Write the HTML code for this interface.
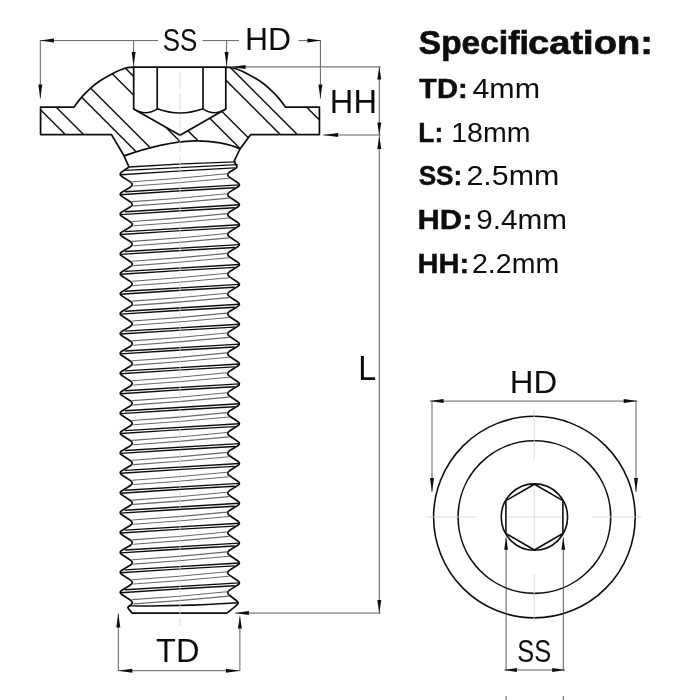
<!DOCTYPE html>
<html><head><meta charset="utf-8"><title>Screw specification</title>
<style>
html,body{margin:0;padding:0;background:#fff;}
body{width:700px;height:700px;overflow:hidden;}
svg{display:block;}
text{font-family:"Liberation Sans",sans-serif;}
</style></head><body>
<svg width="700" height="700" viewBox="0 0 700 700">
<rect x="0" y="0" width="700" height="700" fill="#ffffff"/>
<filter id="nf" x="0" y="0" width="700" height="700" filterUnits="userSpaceOnUse"><feGaussianBlur stdDeviation="0.35"/></filter>
<g filter="url(#nf)">
<defs><clipPath id="sec"><path d="M40.6,107 L74.1,107 C75.43,105.28 79.33,99.85 82.10,96.70 C84.87,93.55 87.83,90.67 90.70,88.10 C93.57,85.53 95.77,83.67 99.30,81.30 C102.83,78.93 108.10,75.90 111.90,73.90 C115.70,71.90 119.25,70.40 122.10,69.30 C124.95,68.20 127.07,67.68 129.00,67.30 C130.93,66.92 132.92,67.05 133.70,67.00 L133.7,108.9 L180,135.2 L225.8,108.9 L225.8,67 C226.58,67.05 228.57,66.92 230.50,67.30 C232.43,67.68 234.55,68.20 237.40,69.30 C240.25,70.40 243.80,71.90 247.60,73.90 C251.40,75.90 256.67,78.93 260.20,81.30 C263.73,83.67 265.93,85.53 268.80,88.10 C271.67,90.67 274.63,93.55 277.40,96.70 C280.17,99.85 284.07,105.28 285.40,107.00 L319.4,107 L319.4,134.6 L250.7,134.6 L240,149 C230,144 212,140.5 194,140.8 C175,141.5 150,146.7 124,155.8 L111.5,134.6 L40.6,134.6 Z"/></clipPath></defs>
<g clip-path="url(#sec)" stroke="#111" stroke-width="1.45">
<line x1="20" y1="89.20" x2="340" y2="409.20"/>
<line x1="20" y1="71.00" x2="340" y2="391.00"/>
<line x1="20" y1="35.60" x2="340" y2="355.60"/>
<line x1="20" y1="17.50" x2="340" y2="337.50"/>
<line x1="20" y1="-18.50" x2="340" y2="301.50"/>
<line x1="20" y1="-37.20" x2="340" y2="282.80"/>
<line x1="20" y1="-71.50" x2="340" y2="248.50"/>
<line x1="20" y1="-90.50" x2="340" y2="229.50"/>
<line x1="20" y1="-125.70" x2="340" y2="194.30"/>
<line x1="20" y1="-142.80" x2="340" y2="177.20"/>
<line x1="20" y1="-179.50" x2="340" y2="140.50"/>
</g>
<path d="M40.6,107 L74.1,107 C75.43,105.28 79.33,99.85 82.10,96.70 C84.87,93.55 87.83,90.67 90.70,88.10 C93.57,85.53 95.77,83.67 99.30,81.30 C102.83,78.93 108.10,75.90 111.90,73.90 C115.70,71.90 119.25,70.40 122.10,69.30 C124.95,68.20 127.07,67.68 129.00,67.30 C130.93,66.92 132.92,67.05 133.70,67.00 L133.7,108.9 L180,135.2 L225.8,108.9 L225.8,67 C226.58,67.05 228.57,66.92 230.50,67.30 C232.43,67.68 234.55,68.20 237.40,69.30 C240.25,70.40 243.80,71.90 247.60,73.90 C251.40,75.90 256.67,78.93 260.20,81.30 C263.73,83.67 265.93,85.53 268.80,88.10 C271.67,90.67 274.63,93.55 277.40,96.70 C280.17,99.85 284.07,105.28 285.40,107.00 L319.4,107 L319.4,134.6 L250.7,134.6 L240,149 C230,144 212,140.5 194,140.8 C175,141.5 150,146.7 124,155.8 L111.5,134.6 L40.6,134.6 Z" fill="none" stroke="#111" stroke-width="1.75" stroke-linejoin="round"/>
<line x1="133.70" y1="67.00" x2="225.80" y2="67.00" stroke="#111" stroke-width="1.75" />
<line x1="157.20" y1="67.00" x2="157.20" y2="108.80" stroke="#111" stroke-width="1.7" />
<line x1="203.00" y1="67.00" x2="203.00" y2="108.80" stroke="#111" stroke-width="1.7" />
<path d="M133.7,108.8 Q145.8,116.6 157.2,108.8 Q180,117.2 203,108.8 Q214.2,116.6 225.8,108.8" fill="none" stroke="#111" stroke-width="1.6"/>
<line x1="124.00" y1="155.80" x2="129.00" y2="167.00" stroke="#111" stroke-width="1.7" />
<line x1="240.00" y1="149.00" x2="234.00" y2="161.40" stroke="#111" stroke-width="1.7" />
<path d="M129.00,167.00 L121.78,172.02 Q118.50,174.30 121.86,176.47 L130.20,181.88 Q134.40,184.60 130.12,187.18 L121.92,192.13 Q118.50,194.20 121.86,196.37 L130.20,201.78 Q134.40,204.50 130.12,207.08 L121.92,212.03 Q118.50,214.10 121.86,216.27 L130.20,221.68 Q134.40,224.40 130.12,226.98 L121.92,231.93 Q118.50,234.00 121.86,236.17 L130.20,241.58 Q134.40,244.30 130.12,246.88 L121.92,251.83 Q118.50,253.90 121.86,256.07 L130.20,261.48 Q134.40,264.20 130.12,266.78 L121.92,271.73 Q118.50,273.80 121.86,275.97 L130.20,281.38 Q134.40,284.10 130.12,286.68 L121.92,291.63 Q118.50,293.70 121.86,295.87 L130.20,301.28 Q134.40,304.00 130.12,306.58 L121.92,311.53 Q118.50,313.60 121.86,315.77 L130.20,321.18 Q134.40,323.90 130.12,326.48 L121.92,331.43 Q118.50,333.50 121.86,335.67 L130.20,341.08 Q134.40,343.80 130.12,346.38 L121.92,351.33 Q118.50,353.40 121.86,355.57 L130.20,360.98 Q134.40,363.70 130.12,366.28 L121.92,371.23 Q118.50,373.30 121.86,375.47 L130.20,380.88 Q134.40,383.60 130.12,386.18 L121.92,391.13 Q118.50,393.20 121.86,395.37 L130.20,400.78 Q134.40,403.50 130.12,406.08 L121.92,411.03 Q118.50,413.10 121.86,415.27 L130.20,420.68 Q134.40,423.40 130.12,425.98 L121.92,430.93 Q118.50,433.00 121.86,435.17 L130.20,440.58 Q134.40,443.30 130.12,445.88 L121.92,450.83 Q118.50,452.90 121.86,455.07 L130.20,460.48 Q134.40,463.20 130.12,465.78 L121.92,470.73 Q118.50,472.80 121.86,474.97 L130.20,480.38 Q134.40,483.10 130.12,485.68 L121.92,490.63 Q118.50,492.70 121.86,494.87 L130.20,500.28 Q134.40,503.00 130.12,505.58 L121.92,510.53 Q118.50,512.60 121.86,514.77 L130.20,520.18 Q134.40,522.90 130.12,525.48 L121.92,530.43 Q118.50,532.50 121.86,534.67 L130.20,540.08 Q134.40,542.80 130.12,545.38 L121.92,550.33 Q118.50,552.40 121.86,554.57 L130.20,559.98 Q134.40,562.70 130.12,565.28 L121.92,570.23 Q118.50,572.30 121.86,574.47 L130.20,579.88 Q134.40,582.60 130.12,585.18 L121.92,590.13 Q118.50,592.20 121.83,594.41 L129.84,599.73 Q134.00,602.50 131.03,604.71 L128.60,606.51 Q127.40,607.40 128.34,608.57 L132.00,613.10 " fill="none" stroke="#111" stroke-width="1.75" stroke-linejoin="round"/>
<path d="M234.00,161.40 L236.63,165.81 Q237.40,167.10 236.13,167.90 L229.82,171.92 Q225.60,174.60 229.76,177.37 L237.77,182.69 Q241.10,184.90 237.70,187.01 L229.85,191.87 Q225.60,194.50 229.76,197.27 L237.77,202.59 Q241.10,204.80 237.70,206.91 L229.85,211.77 Q225.60,214.40 229.76,217.17 L237.77,222.49 Q241.10,224.70 237.70,226.81 L229.85,231.67 Q225.60,234.30 229.76,237.07 L237.77,242.39 Q241.10,244.60 237.70,246.71 L229.85,251.57 Q225.60,254.20 229.76,256.97 L237.77,262.29 Q241.10,264.50 237.70,266.61 L229.85,271.47 Q225.60,274.10 229.76,276.87 L237.77,282.19 Q241.10,284.40 237.70,286.51 L229.85,291.37 Q225.60,294.00 229.76,296.77 L237.77,302.09 Q241.10,304.30 237.70,306.41 L229.85,311.27 Q225.60,313.90 229.76,316.67 L237.77,321.99 Q241.10,324.20 237.70,326.31 L229.85,331.17 Q225.60,333.80 229.76,336.57 L237.77,341.89 Q241.10,344.10 237.70,346.21 L229.85,351.07 Q225.60,353.70 229.76,356.47 L237.77,361.79 Q241.10,364.00 237.70,366.11 L229.85,370.97 Q225.60,373.60 229.76,376.37 L237.77,381.69 Q241.10,383.90 237.70,386.01 L229.85,390.87 Q225.60,393.50 229.76,396.27 L237.77,401.59 Q241.10,403.80 237.70,405.91 L229.85,410.77 Q225.60,413.40 229.76,416.17 L237.77,421.49 Q241.10,423.70 237.70,425.81 L229.85,430.67 Q225.60,433.30 229.76,436.07 L237.77,441.39 Q241.10,443.60 237.70,445.71 L229.85,450.57 Q225.60,453.20 229.76,455.97 L237.77,461.29 Q241.10,463.50 237.70,465.61 L229.85,470.47 Q225.60,473.10 229.76,475.87 L237.77,481.19 Q241.10,483.40 237.70,485.51 L229.85,490.37 Q225.60,493.00 229.76,495.77 L237.77,501.09 Q241.10,503.30 237.70,505.41 L229.85,510.27 Q225.60,512.90 229.76,515.67 L237.77,520.99 Q241.10,523.20 237.70,525.31 L229.85,530.17 Q225.60,532.80 229.76,535.57 L237.77,540.89 Q241.10,543.10 237.70,545.21 L229.85,550.07 Q225.60,552.70 229.76,555.47 L237.77,560.79 Q241.10,563.00 237.70,565.11 L229.85,569.97 Q225.60,572.60 229.76,575.37 L237.77,580.69 Q241.10,582.90 237.70,585.01 L229.85,589.87 Q225.60,592.50 229.63,595.46 L236.38,600.43 Q239.60,602.80 236.50,605.33 L227.00,613.10 " fill="none" stroke="#111" stroke-width="1.75" stroke-linejoin="round"/>
<line x1="132.00" y1="613.10" x2="227.00" y2="613.10" stroke="#111" stroke-width="1.7" />
<path d="M120.70,174.80 Q177.50,170.95 234.30,167.90" fill="none" stroke="#111" stroke-width="1.45" stroke-linecap="round"/>
<path d="M120.70,194.70 Q177.50,190.85 234.30,187.80" fill="none" stroke="#111" stroke-width="1.45" stroke-linecap="round"/>
<path d="M125.40,191.80 Q182.35,188.57 239.30,184.90" fill="none" stroke="#111" stroke-width="1.45" stroke-linecap="round"/>
<path d="M133.60,186.00 Q181.20,182.90 228.80,178.20" fill="none" stroke="#6a6a6a" stroke-width="1.1" stroke-linecap="round"/>
<path d="M132.10,181.70 Q179.50,178.73 226.90,173.80" fill="none" stroke="#6a6a6a" stroke-width="1.1" stroke-linecap="round"/>
<path d="M120.70,214.60 Q177.50,210.75 234.30,207.70" fill="none" stroke="#111" stroke-width="1.45" stroke-linecap="round"/>
<path d="M125.40,211.70 Q182.35,208.47 239.30,204.80" fill="none" stroke="#111" stroke-width="1.45" stroke-linecap="round"/>
<path d="M133.60,205.90 Q181.20,202.80 228.80,198.10" fill="none" stroke="#6a6a6a" stroke-width="1.1" stroke-linecap="round"/>
<path d="M132.10,201.60 Q179.50,198.63 226.90,193.70" fill="none" stroke="#6a6a6a" stroke-width="1.1" stroke-linecap="round"/>
<path d="M120.70,234.50 Q177.50,230.65 234.30,227.60" fill="none" stroke="#111" stroke-width="1.45" stroke-linecap="round"/>
<path d="M125.40,231.60 Q182.35,228.37 239.30,224.70" fill="none" stroke="#111" stroke-width="1.45" stroke-linecap="round"/>
<path d="M133.60,225.80 Q181.20,222.70 228.80,218.00" fill="none" stroke="#6a6a6a" stroke-width="1.1" stroke-linecap="round"/>
<path d="M132.10,221.50 Q179.50,218.53 226.90,213.60" fill="none" stroke="#6a6a6a" stroke-width="1.1" stroke-linecap="round"/>
<path d="M120.70,254.40 Q177.50,250.55 234.30,247.50" fill="none" stroke="#111" stroke-width="1.45" stroke-linecap="round"/>
<path d="M125.40,251.50 Q182.35,248.27 239.30,244.60" fill="none" stroke="#111" stroke-width="1.45" stroke-linecap="round"/>
<path d="M133.60,245.70 Q181.20,242.60 228.80,237.90" fill="none" stroke="#6a6a6a" stroke-width="1.1" stroke-linecap="round"/>
<path d="M132.10,241.40 Q179.50,238.43 226.90,233.50" fill="none" stroke="#6a6a6a" stroke-width="1.1" stroke-linecap="round"/>
<path d="M120.70,274.30 Q177.50,270.45 234.30,267.40" fill="none" stroke="#111" stroke-width="1.45" stroke-linecap="round"/>
<path d="M125.40,271.40 Q182.35,268.17 239.30,264.50" fill="none" stroke="#111" stroke-width="1.45" stroke-linecap="round"/>
<path d="M133.60,265.60 Q181.20,262.50 228.80,257.80" fill="none" stroke="#6a6a6a" stroke-width="1.1" stroke-linecap="round"/>
<path d="M132.10,261.30 Q179.50,258.33 226.90,253.40" fill="none" stroke="#6a6a6a" stroke-width="1.1" stroke-linecap="round"/>
<path d="M120.70,294.20 Q177.50,290.35 234.30,287.30" fill="none" stroke="#111" stroke-width="1.45" stroke-linecap="round"/>
<path d="M125.40,291.30 Q182.35,288.07 239.30,284.40" fill="none" stroke="#111" stroke-width="1.45" stroke-linecap="round"/>
<path d="M133.60,285.50 Q181.20,282.40 228.80,277.70" fill="none" stroke="#6a6a6a" stroke-width="1.1" stroke-linecap="round"/>
<path d="M132.10,281.20 Q179.50,278.23 226.90,273.30" fill="none" stroke="#6a6a6a" stroke-width="1.1" stroke-linecap="round"/>
<path d="M120.70,314.10 Q177.50,310.25 234.30,307.20" fill="none" stroke="#111" stroke-width="1.45" stroke-linecap="round"/>
<path d="M125.40,311.20 Q182.35,307.97 239.30,304.30" fill="none" stroke="#111" stroke-width="1.45" stroke-linecap="round"/>
<path d="M133.60,305.40 Q181.20,302.30 228.80,297.60" fill="none" stroke="#6a6a6a" stroke-width="1.1" stroke-linecap="round"/>
<path d="M132.10,301.10 Q179.50,298.13 226.90,293.20" fill="none" stroke="#6a6a6a" stroke-width="1.1" stroke-linecap="round"/>
<path d="M120.70,334.00 Q177.50,330.15 234.30,327.10" fill="none" stroke="#111" stroke-width="1.45" stroke-linecap="round"/>
<path d="M125.40,331.10 Q182.35,327.87 239.30,324.20" fill="none" stroke="#111" stroke-width="1.45" stroke-linecap="round"/>
<path d="M133.60,325.30 Q181.20,322.20 228.80,317.50" fill="none" stroke="#6a6a6a" stroke-width="1.1" stroke-linecap="round"/>
<path d="M132.10,321.00 Q179.50,318.03 226.90,313.10" fill="none" stroke="#6a6a6a" stroke-width="1.1" stroke-linecap="round"/>
<path d="M120.70,353.90 Q177.50,350.05 234.30,347.00" fill="none" stroke="#111" stroke-width="1.45" stroke-linecap="round"/>
<path d="M125.40,351.00 Q182.35,347.77 239.30,344.10" fill="none" stroke="#111" stroke-width="1.45" stroke-linecap="round"/>
<path d="M133.60,345.20 Q181.20,342.10 228.80,337.40" fill="none" stroke="#6a6a6a" stroke-width="1.1" stroke-linecap="round"/>
<path d="M132.10,340.90 Q179.50,337.93 226.90,333.00" fill="none" stroke="#6a6a6a" stroke-width="1.1" stroke-linecap="round"/>
<path d="M120.70,373.80 Q177.50,369.95 234.30,366.90" fill="none" stroke="#111" stroke-width="1.45" stroke-linecap="round"/>
<path d="M125.40,370.90 Q182.35,367.67 239.30,364.00" fill="none" stroke="#111" stroke-width="1.45" stroke-linecap="round"/>
<path d="M133.60,365.10 Q181.20,362.00 228.80,357.30" fill="none" stroke="#6a6a6a" stroke-width="1.1" stroke-linecap="round"/>
<path d="M132.10,360.80 Q179.50,357.83 226.90,352.90" fill="none" stroke="#6a6a6a" stroke-width="1.1" stroke-linecap="round"/>
<path d="M120.70,393.70 Q177.50,389.85 234.30,386.80" fill="none" stroke="#111" stroke-width="1.45" stroke-linecap="round"/>
<path d="M125.40,390.80 Q182.35,387.57 239.30,383.90" fill="none" stroke="#111" stroke-width="1.45" stroke-linecap="round"/>
<path d="M133.60,385.00 Q181.20,381.90 228.80,377.20" fill="none" stroke="#6a6a6a" stroke-width="1.1" stroke-linecap="round"/>
<path d="M132.10,380.70 Q179.50,377.73 226.90,372.80" fill="none" stroke="#6a6a6a" stroke-width="1.1" stroke-linecap="round"/>
<path d="M120.70,413.60 Q177.50,409.75 234.30,406.70" fill="none" stroke="#111" stroke-width="1.45" stroke-linecap="round"/>
<path d="M125.40,410.70 Q182.35,407.47 239.30,403.80" fill="none" stroke="#111" stroke-width="1.45" stroke-linecap="round"/>
<path d="M133.60,404.90 Q181.20,401.80 228.80,397.10" fill="none" stroke="#6a6a6a" stroke-width="1.1" stroke-linecap="round"/>
<path d="M132.10,400.60 Q179.50,397.63 226.90,392.70" fill="none" stroke="#6a6a6a" stroke-width="1.1" stroke-linecap="round"/>
<path d="M120.70,433.50 Q177.50,429.65 234.30,426.60" fill="none" stroke="#111" stroke-width="1.45" stroke-linecap="round"/>
<path d="M125.40,430.60 Q182.35,427.37 239.30,423.70" fill="none" stroke="#111" stroke-width="1.45" stroke-linecap="round"/>
<path d="M133.60,424.80 Q181.20,421.70 228.80,417.00" fill="none" stroke="#6a6a6a" stroke-width="1.1" stroke-linecap="round"/>
<path d="M132.10,420.50 Q179.50,417.53 226.90,412.60" fill="none" stroke="#6a6a6a" stroke-width="1.1" stroke-linecap="round"/>
<path d="M120.70,453.40 Q177.50,449.55 234.30,446.50" fill="none" stroke="#111" stroke-width="1.45" stroke-linecap="round"/>
<path d="M125.40,450.50 Q182.35,447.27 239.30,443.60" fill="none" stroke="#111" stroke-width="1.45" stroke-linecap="round"/>
<path d="M133.60,444.70 Q181.20,441.60 228.80,436.90" fill="none" stroke="#6a6a6a" stroke-width="1.1" stroke-linecap="round"/>
<path d="M132.10,440.40 Q179.50,437.43 226.90,432.50" fill="none" stroke="#6a6a6a" stroke-width="1.1" stroke-linecap="round"/>
<path d="M120.70,473.30 Q177.50,469.45 234.30,466.40" fill="none" stroke="#111" stroke-width="1.45" stroke-linecap="round"/>
<path d="M125.40,470.40 Q182.35,467.17 239.30,463.50" fill="none" stroke="#111" stroke-width="1.45" stroke-linecap="round"/>
<path d="M133.60,464.60 Q181.20,461.50 228.80,456.80" fill="none" stroke="#6a6a6a" stroke-width="1.1" stroke-linecap="round"/>
<path d="M132.10,460.30 Q179.50,457.33 226.90,452.40" fill="none" stroke="#6a6a6a" stroke-width="1.1" stroke-linecap="round"/>
<path d="M120.70,493.20 Q177.50,489.35 234.30,486.30" fill="none" stroke="#111" stroke-width="1.45" stroke-linecap="round"/>
<path d="M125.40,490.30 Q182.35,487.07 239.30,483.40" fill="none" stroke="#111" stroke-width="1.45" stroke-linecap="round"/>
<path d="M133.60,484.50 Q181.20,481.40 228.80,476.70" fill="none" stroke="#6a6a6a" stroke-width="1.1" stroke-linecap="round"/>
<path d="M132.10,480.20 Q179.50,477.23 226.90,472.30" fill="none" stroke="#6a6a6a" stroke-width="1.1" stroke-linecap="round"/>
<path d="M120.70,513.10 Q177.50,509.25 234.30,506.20" fill="none" stroke="#111" stroke-width="1.45" stroke-linecap="round"/>
<path d="M125.40,510.20 Q182.35,506.97 239.30,503.30" fill="none" stroke="#111" stroke-width="1.45" stroke-linecap="round"/>
<path d="M133.60,504.40 Q181.20,501.30 228.80,496.60" fill="none" stroke="#6a6a6a" stroke-width="1.1" stroke-linecap="round"/>
<path d="M132.10,500.10 Q179.50,497.13 226.90,492.20" fill="none" stroke="#6a6a6a" stroke-width="1.1" stroke-linecap="round"/>
<path d="M120.70,533.00 Q177.50,529.15 234.30,526.10" fill="none" stroke="#111" stroke-width="1.45" stroke-linecap="round"/>
<path d="M125.40,530.10 Q182.35,526.87 239.30,523.20" fill="none" stroke="#111" stroke-width="1.45" stroke-linecap="round"/>
<path d="M133.60,524.30 Q181.20,521.20 228.80,516.50" fill="none" stroke="#6a6a6a" stroke-width="1.1" stroke-linecap="round"/>
<path d="M132.10,520.00 Q179.50,517.03 226.90,512.10" fill="none" stroke="#6a6a6a" stroke-width="1.1" stroke-linecap="round"/>
<path d="M120.70,552.90 Q177.50,549.05 234.30,546.00" fill="none" stroke="#111" stroke-width="1.45" stroke-linecap="round"/>
<path d="M125.40,550.00 Q182.35,546.77 239.30,543.10" fill="none" stroke="#111" stroke-width="1.45" stroke-linecap="round"/>
<path d="M133.60,544.20 Q181.20,541.10 228.80,536.40" fill="none" stroke="#6a6a6a" stroke-width="1.1" stroke-linecap="round"/>
<path d="M132.10,539.90 Q179.50,536.93 226.90,532.00" fill="none" stroke="#6a6a6a" stroke-width="1.1" stroke-linecap="round"/>
<path d="M120.70,572.80 Q177.50,568.95 234.30,565.90" fill="none" stroke="#111" stroke-width="1.45" stroke-linecap="round"/>
<path d="M125.40,569.90 Q182.35,566.67 239.30,563.00" fill="none" stroke="#111" stroke-width="1.45" stroke-linecap="round"/>
<path d="M133.60,564.10 Q181.20,561.00 228.80,556.30" fill="none" stroke="#6a6a6a" stroke-width="1.1" stroke-linecap="round"/>
<path d="M132.10,559.80 Q179.50,556.83 226.90,551.90" fill="none" stroke="#6a6a6a" stroke-width="1.1" stroke-linecap="round"/>
<path d="M120.70,592.70 Q177.50,588.85 234.30,585.80" fill="none" stroke="#111" stroke-width="1.45" stroke-linecap="round"/>
<path d="M125.40,589.80 Q182.35,586.57 239.30,582.90" fill="none" stroke="#111" stroke-width="1.45" stroke-linecap="round"/>
<path d="M133.60,584.00 Q181.20,580.90 228.80,576.20" fill="none" stroke="#6a6a6a" stroke-width="1.1" stroke-linecap="round"/>
<path d="M132.10,579.70 Q179.50,576.73 226.90,571.80" fill="none" stroke="#6a6a6a" stroke-width="1.1" stroke-linecap="round"/>
<path d="M129.50,605.90 Q183.90,606.84 238.30,602.80" fill="none" stroke="#111" stroke-width="1.45" stroke-linecap="round"/>
<path d="M133.60,603.90 Q181.20,600.80 228.80,596.10" fill="none" stroke="#6a6a6a" stroke-width="1.1" stroke-linecap="round"/>
<path d="M132.10,599.60 Q179.50,596.63 226.90,591.70" fill="none" stroke="#6a6a6a" stroke-width="1.1" stroke-linecap="round"/>
<path d="M129.00,167.00 Q182.25,163.33 235.50,161.90" fill="none" stroke="#111" stroke-width="1.3" stroke-linecap="round"/>
<path d="M125.60,170.40 Q181.40,167.55 237.20,164.60" fill="none" stroke="#111" stroke-width="1.3" stroke-linecap="round"/>
<line x1="180" y1="72" x2="180" y2="626" stroke="#d4d4d4" stroke-width="0.8" stroke-dasharray="17,4"/>
<line x1="40.00" y1="40.60" x2="158.00" y2="40.60" stroke="#505050" stroke-width="0.9" />
<line x1="202.60" y1="40.60" x2="239.00" y2="40.60" stroke="#505050" stroke-width="0.9" />
<line x1="298.60" y1="40.60" x2="321.00" y2="40.60" stroke="#505050" stroke-width="0.9" />
<polygon points="40.00,40.60 54.00,38.60 54.00,42.60" fill="#111"/>
<polygon points="321.40,40.60 307.40,42.60 307.40,38.60" fill="#111"/>
<line x1="40.30" y1="40.60" x2="40.30" y2="98.50" stroke="#505050" stroke-width="0.9" />
<polygon points="40.30,98.50 38.30,84.50 42.30,84.50" fill="#111"/>
<line x1="320.40" y1="40.60" x2="320.40" y2="98.60" stroke="#505050" stroke-width="0.9" />
<polygon points="320.40,98.60 318.40,84.60 322.40,84.60" fill="#111"/>
<line x1="133.60" y1="40.60" x2="133.60" y2="66.00" stroke="#505050" stroke-width="0.9" />
<polygon points="133.60,66.00 131.60,52.00 135.60,52.00" fill="#111"/>
<line x1="226.60" y1="40.60" x2="226.60" y2="66.00" stroke="#505050" stroke-width="0.9" />
<polygon points="226.60,66.00 224.60,52.00 228.60,52.00" fill="#111"/>
<line x1="231.50" y1="66.90" x2="380.80" y2="66.90" stroke="#777" stroke-width="1.1" />
<polygon points="231.10,67.00 245.60,65.00 245.60,69.00" fill="#111"/>
<line x1="323.50" y1="135.00" x2="380.50" y2="135.00" stroke="#505050" stroke-width="0.9" />
<polygon points="323.10,135.00 338.10,133.00 338.10,137.00" fill="#111"/>
<line x1="379.30" y1="66.90" x2="379.30" y2="613.50" stroke="#505050" stroke-width="0.9" />
<polygon points="379.30,66.90 381.30,79.40 377.30,79.40" fill="#111"/>
<polygon points="379.30,135.00 377.30,122.50 381.30,122.50" fill="#111"/>
<polygon points="379.30,136.00 381.30,149.00 377.30,149.00" fill="#111"/>
<polygon points="379.30,613.10 377.30,600.10 381.30,600.10" fill="#111"/>
<line x1="235.00" y1="613.10" x2="380.50" y2="613.10" stroke="#505050" stroke-width="0.9" />
<polygon points="234.90,613.10 248.90,611.10 248.90,615.10" fill="#111"/>
<line x1="118.30" y1="613.50" x2="118.30" y2="671.00" stroke="#505050" stroke-width="0.9" />
<line x1="239.90" y1="616.50" x2="239.90" y2="671.00" stroke="#505050" stroke-width="0.9" />
<polygon points="118.30,613.60 120.30,627.60 116.30,627.60" fill="#111"/>
<polygon points="239.90,616.60 241.90,628.60 237.90,628.60" fill="#111"/>
<line x1="118.30" y1="670.70" x2="239.90" y2="670.70" stroke="#505050" stroke-width="0.9" />
<polygon points="118.30,670.70 132.30,668.70 132.30,672.70" fill="#111"/>
<polygon points="239.90,670.70 225.90,672.70 225.90,668.70" fill="#111"/>
<circle cx="534.4" cy="517.1" r="100.8" fill="none" stroke="#111" stroke-width="1.6"/>
<circle cx="534.4" cy="517.1" r="76.3" fill="none" stroke="#111" stroke-width="1.6"/>
<circle cx="534.4" cy="517.1" r="33.2" fill="none" stroke="#111" stroke-width="1.6"/>
<polygon points="534.40,484.20 562.89,500.65 562.89,533.55 534.40,550.00 505.91,533.55 505.91,500.65" fill="none" stroke="#111" stroke-width="1.6" stroke-linejoin="round"/>
<line x1="534.20" y1="409.50" x2="534.20" y2="459.50" stroke="#d2d2d2" stroke-width="0.8" />
<line x1="534.20" y1="488.30" x2="534.20" y2="545.00" stroke="#d2d2d2" stroke-width="0.8" />
<line x1="534.20" y1="574.30" x2="534.20" y2="622.00" stroke="#d2d2d2" stroke-width="0.8" />
<line x1="426.50" y1="516.90" x2="476.60" y2="516.90" stroke="#d2d2d2" stroke-width="0.8" />
<line x1="507.50" y1="516.90" x2="561.70" y2="516.90" stroke="#d2d2d2" stroke-width="0.8" />
<line x1="591.40" y1="516.90" x2="641.50" y2="516.90" stroke="#d2d2d2" stroke-width="0.8" />
<line x1="430.00" y1="401.10" x2="637.50" y2="401.10" stroke="#505050" stroke-width="0.9" />
<polygon points="429.60,401.10 443.60,399.10 443.60,403.10" fill="#111"/>
<polygon points="637.70,401.10 623.70,403.10 623.70,399.10" fill="#111"/>
<line x1="432.00" y1="401.10" x2="432.00" y2="492.00" stroke="#505050" stroke-width="0.9" />
<line x1="636.00" y1="401.10" x2="636.00" y2="492.00" stroke="#505050" stroke-width="0.9" />
<polygon points="432.00,492.00 430.00,478.00 434.00,478.00" fill="#111"/>
<polygon points="636.00,492.00 634.00,478.00 638.00,478.00" fill="#111"/>
<line x1="506.10" y1="537.50" x2="506.10" y2="670.50" stroke="#484848" stroke-width="0.9" />
<line x1="563.30" y1="537.50" x2="563.30" y2="670.50" stroke="#484848" stroke-width="0.9" />
<polygon points="506.10,537.20 508.00,549.70 504.20,549.70" fill="#111"/>
<polygon points="563.30,537.20 565.20,549.70 561.40,549.70" fill="#111"/>
<line x1="504.50" y1="670.00" x2="565.00" y2="670.00" stroke="#505050" stroke-width="0.9" />
<polygon points="503.90,670.00 516.90,668.00 516.90,672.00" fill="#111"/>
<polygon points="565.20,670.00 552.20,672.00 552.20,668.00" fill="#111"/>
<line x1="506.10" y1="696.00" x2="506.10" y2="700.00" stroke="#484848" stroke-width="0.9" />
<line x1="563.30" y1="696.00" x2="563.30" y2="700.00" stroke="#484848" stroke-width="0.9" />
<text id="ss1" x="162.79" y="50.6" font-size="32.2" font-weight="normal" textLength="34.60" lengthAdjust="spacingAndGlyphs" fill="#111">SS</text>
<text id="hd1" x="244.94" y="50.4" font-size="32.2" font-weight="normal" textLength="46.14" lengthAdjust="spacingAndGlyphs" fill="#111">HD</text>
<text id="hh1" x="329.87" y="112.5" font-size="32.7" font-weight="normal" textLength="47.07" lengthAdjust="spacingAndGlyphs" fill="#111">HH</text>
<text id="l1" x="358.23" y="379.9" font-size="34.5" font-weight="normal" textLength="17.95" lengthAdjust="spacingAndGlyphs" fill="#111">L</text>
<text id="td1" x="156.05" y="661.8" font-size="32.5" font-weight="normal" textLength="43.35" lengthAdjust="spacingAndGlyphs" fill="#111">TD</text>
<text id="hd2" x="509.74" y="393.3" font-size="32.2" font-weight="normal" textLength="47.47" lengthAdjust="spacingAndGlyphs" fill="#111">HD</text>
<text id="ss2" x="517.26" y="661.6" font-size="32.2" font-weight="normal" textLength="33.90" lengthAdjust="spacingAndGlyphs" fill="#111">SS</text>
<text id="spec1" x="418.86" y="54.0" font-size="34" font-weight="bold" textLength="79.90" lengthAdjust="spacingAndGlyphs" fill="#111" stroke="#111" stroke-width="0.7">Spec</text>
<text id="spec2" x="498.85" y="54.0" font-size="34" font-weight="bold" textLength="30.20" lengthAdjust="spacingAndGlyphs" fill="#111" stroke="#111" stroke-width="0.7">ifi</text>
<text id="spec3" x="528.05" y="54.0" font-size="34" font-weight="bold" textLength="124.81" lengthAdjust="spacingAndGlyphs" fill="#111" stroke="#111" stroke-width="0.7">cation:</text>
<text id="tdl" x="419.08" y="97.7" font-size="28.5" font-weight="bold" textLength="48.56" lengthAdjust="spacingAndGlyphs" fill="#111" stroke="#111" stroke-width="0.45">TD:</text>
<text id="tdv" x="472.44" y="97.7" font-size="28.5" font-weight="normal" textLength="67.66" lengthAdjust="spacingAndGlyphs" fill="#111">4mm</text>
<text id="ll" x="418.20" y="141.6" font-size="28.5" font-weight="bold" textLength="25.08" lengthAdjust="spacingAndGlyphs" fill="#111" stroke="#111" stroke-width="0.45">L:</text>
<text id="lv" x="451.20" y="141.6" font-size="28.5" font-weight="normal" textLength="79.31" lengthAdjust="spacingAndGlyphs" fill="#111">18mm</text>
<text id="ssl" x="418.65" y="185.0" font-size="28.5" font-weight="bold" textLength="43.62" lengthAdjust="spacingAndGlyphs" fill="#111" stroke="#111" stroke-width="0.45">SS:</text>
<text id="ssv" x="466.51" y="185.0" font-size="28.5" font-weight="normal" textLength="92.71" lengthAdjust="spacingAndGlyphs" fill="#111">2.5mm</text>
<text id="hdl" x="417.51" y="228.8" font-size="28.5" font-weight="bold" textLength="54.97" lengthAdjust="spacingAndGlyphs" fill="#111" stroke="#111" stroke-width="0.45">HD:</text>
<text id="hdv" x="476.31" y="228.8" font-size="28.5" font-weight="normal" textLength="90.59" lengthAdjust="spacingAndGlyphs" fill="#111">9.4mm</text>
<text id="hhl" x="417.57" y="272.6" font-size="28.5" font-weight="bold" textLength="51.75" lengthAdjust="spacingAndGlyphs" fill="#111" stroke="#111" stroke-width="0.45">HH:</text>
<text id="hhv" x="471.96" y="272.6" font-size="28.5" font-weight="normal" textLength="87.23" lengthAdjust="spacingAndGlyphs" fill="#111">2.2mm</text>
</g>
</svg>
</body></html>
